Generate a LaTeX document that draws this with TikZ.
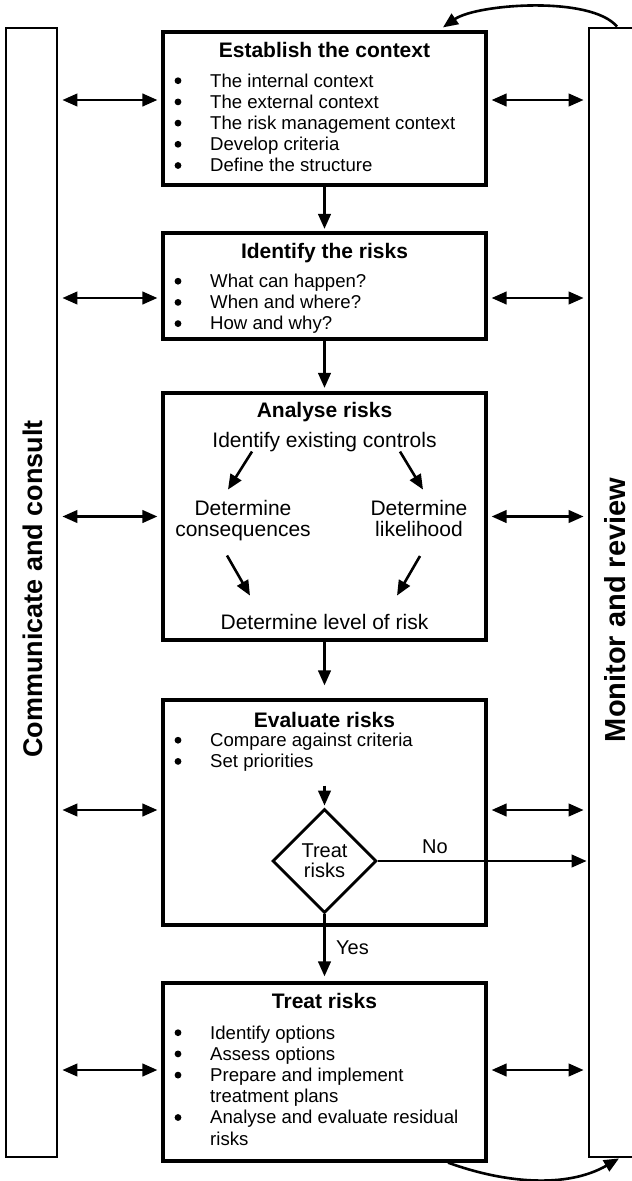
\documentclass[tikz,border=0pt]{standalone}
\usepackage{fontspec}
\setmainfont{Liberation Sans}
\usetikzlibrary{arrows.meta,shapes.geometric,calc}

% indent of the list lines; the bullet dots are drawn separately
\newcommand\itm{\hspace*{37pt}}

\tikzset{
  box/.style={draw, line width=3.2pt, minimum width=323pt, inner sep=0pt},
  side/.style={draw, line width=2.8pt, minimum width=51pt, minimum height=1129pt, inner sep=0pt},
  head/.style={font=\fontsize{21}{24}\selectfont\bfseries, anchor=base, inner sep=0pt},
  item/.style={font=\fontsize{18.6}{21.2}\selectfont, anchor=base west, inner sep=0pt},
  big/.style={font=\fontsize{21}{21}\selectfont, anchor=base, inner sep=0pt},
  lbl/.style={font=\fontsize{20}{20}\selectfont, anchor=base west, inner sep=0pt},
  tip/.tip={Triangle[length=15pt,width=12.5pt]},
  arr/.style={line width=2.6pt, -tip},
  darr/.style={line width=2.6pt, tip-tip, shorten <=4pt, shorten >=4pt},
}
% bullet dots in front of the given rows of a list node
\newcommand\listdots[2]{\foreach \r in {#2}{\fill ($(#1.base west)+(5,\r*21.2-6.3)$) circle (3.4pt);}}

\begin{document}
\begin{tikzpicture}[x=1pt,y=-1pt]
\useasboundingbox (0,0) rectangle (632,1181);
\clip (0,0) rectangle (632,1181);

% side columns
\node[side] (cc) at (31.5,592.5) {};
\node[side] (mr) at (614.5,592.5) {};
\node[rotate=90, inner sep=0pt, font=\fontsize{27}{27}\selectfont\bfseries] (cc-t) at (33,589) {Communicate and consult};
\node[rotate=90, inner sep=0pt, font=\fontsize{29}{29}\selectfont\bfseries] (mr-t) at (615,610) {Monitor and review};

% process boxes
\node[box, minimum height=153pt] (est) at (324.5,108.5) {};
\node[box, minimum height=106pt] (idr) at (324.5,286) {};
\node[box, minimum height=247pt] (ana) at (324.5,516.5) {};
\node[box, minimum height=225pt] (eva) at (324.5,812.5) {};
\node[box, minimum height=178pt] (trt) at (324.5,1072) {};

% establish the context
\node[head] (est-t) at (324.5,57) {Establish the context};
\node[item] (est-l) at (173,87) {\begin{tabular}[t]{@{}l@{}}
\itm The internal context\\
\itm The external context\\
\itm The risk management context\\
\itm Develop criteria\\
\itm Define the structure
\end{tabular}};
\listdots{est-l}{0,...,4}

% identify the risks
\node[head] (idr-t) at (324.5,258) {Identify the risks};
\node[item] (idr-l) at (173,287.5) {\begin{tabular}[t]{@{}l@{}}
\itm What can happen?\\
\itm When and where?\\
\itm How and why?
\end{tabular}};
\listdots{idr-l}{0,1,2}

% analyse risks
\node[head] (ana-t) at (324.5,417) {Analyse risks};
\node[big] (idc) at (324.5,447) {Identify existing controls};
\node[big] (cons) at (243,515) {\begin{tabular}[t]{@{}c@{}}Determine\\consequences\end{tabular}};
\node[big] (lik) at (419,515) {\begin{tabular}[t]{@{}c@{}}Determine\\likelihood\end{tabular}};
\node[big] (lvl) at (324.5,629) {Determine level of risk};
\draw[arr] ($(idc.south)+(-72.5,0)$) -- ($(cons.north)+(-15,-10)$);
\draw[arr] ($(idc.south)+(75.5,0)$) -- ($(lik.north)+(4,-10)$);
\draw[arr] ($(cons.south)+(-16,13)$) -- ($(lvl.north)+(-74.5,-18)$);
\draw[arr] ($(lik.south)+(1,13)$) -- ($(lvl.north)+(72.5,-18)$);

% evaluate risks
\node[head] (eva-t) at (324.5,727) {Evaluate risks};
\node[item] (eva-l) at (173,746.5) {\begin{tabular}[t]{@{}l@{}}
\itm Compare against criteria\\
\itm Set priorities
\end{tabular}};
\listdots{eva-l}{0,1}
\node[draw, diamond, line width=2.8pt, minimum width=104pt, minimum height=104pt,
      inner sep=0pt, align=center, font=\fontsize{20}{20}\selectfont] (dia) at (324.5,861) {Treat\\risks};
\coordinate (sp) at ($(dia.north)+(0,-22)$);
\draw[arr, shorten >=2pt] (sp) -- (dia.north);
\draw[arr, shorten >=1pt] (dia.east) -- (dia.east -| mr.west);
\node[lbl] (no) at (422,853) {No};

% treat risks
\node[head] (trt-t) at (324.5,1008) {Treat risks};
\node[item] (trt-l) at (173,1039) {\begin{tabular}[t]{@{}l@{}}
\itm Identify options\\
\itm Assess options\\
\itm Prepare and implement\\
\itm treatment plans\\
\itm Analyse and evaluate residual\\
\itm risks
\end{tabular}};
\listdots{trt-l}{0,1,2,4}
\draw[arr, shorten >=5pt] (dia.south) -- (trt.north);
\node[lbl] (yes) at (336,954) {Yes};

% main flow
\draw[arr, shorten >=2.5pt] (est.south) -- (idr.north);
\draw[arr, shorten >=3.5pt] (idr.south) -- (ana.north);
\draw[arr, shorten >=13pt] (ana.south) -- (eva.north);

% links to the side columns
\foreach \b/\dy in {est/8.5,idr/-12,ana/0,eva/2.5,trt/2}{
  \coordinate (\b-w) at ([yshift=\dy pt]\b.west);
  \draw[darr] (cc.east |- \b-w) -- (\b-w);
  \draw[darr] (\b-w -| \b.east) -- (\b-w -| mr.west);
}

% review loop
\draw[arr] ([xshift=2.5pt]mr.north) to[out=130, in=35, looseness=0.6] ([xshift=118.5pt,yshift=3pt]est.north);
\draw[arr] ([xshift=123.5pt]trt.south) to[out=-20, in=-150, looseness=0.9] ([xshift=4.5pt]mr.south);
\end{tikzpicture}
\end{document}
